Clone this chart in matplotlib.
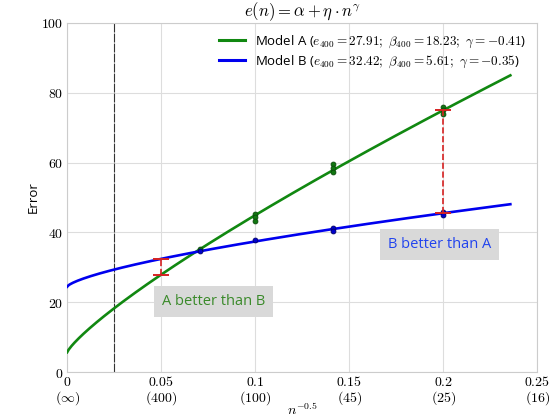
import numpy as np
import matplotlib
matplotlib.use("Agg")
import matplotlib.pyplot as plt

plt.rcParams["mathtext.fontset"] = "cm"
plt.rcParams["font.family"] = ["Open Sans", "DejaVu Sans"]

# fitted model parameters: e(n) = alpha + eta * n^gamma, plotted against x = n^-0.5
alpha_a, eta_a, gamma_a = 5.66, 259.5, -0.41
alpha_b, eta_b, gamma_b = 24.44, 65.0, -0.35
x_end = 0.2357  # n = 18

label_a = r"Model A ($e_{400} = 27.91;\ \beta_{400} = 18.23;\ \gamma = -0.41$)"
label_b = r"Model B ($e_{400} = 32.42;\ \beta_{400} = 5.61;\ \gamma = -0.35$)"

# observed errors (x = n^-0.5)
obs_a_x = [0.0707, 0.1, 0.1, 0.1, 0.1414, 0.1414, 0.1414, 0.2, 0.2, 0.2]
obs_a_y = [35.2, 45.4, 44.3, 43.4, 59.5, 58.4, 57.3, 76.0, 75.0, 74.0]
obs_b_x = [0.0707, 0.1, 0.1414, 0.1414, 0.2, 0.2]
obs_b_y = [34.8, 37.7, 41.3, 40.5, 45.9, 45.1]

# gaps between the two models
gap_x = [0.05, 0.2]
gap_lo = [27.91, 45.5]
gap_hi = [32.42, 75.0]

x_ref = 0.025  # n = 1600

xticks = [0, 0.05, 0.1, 0.15, 0.2, 0.25]
xtick_top = ["0", "0.05", "0.1", "0.15", "0.2", "0.25"]
xtick_bottom = [r"\infty", "400", "100", "45", "25", "16"]
yticks = [0, 20, 40, 60, 80, 100]


def model(x, alpha, eta, gamma):
    n_pow = np.power(x, -2.0 * gamma)
    return alpha + eta * n_pow


fig = plt.figure(figsize=(5.55, 4.18), dpi=100)
ax = fig.add_axes([0.121, 0.110, 0.847, 0.835])

xs = np.linspace(0, x_end, 300)
ax.plot(xs, model(xs, alpha_a, eta_a, gamma_a), color="#118811", lw=1.9, label=label_a, zorder=3)
ax.plot(xs, model(xs, alpha_b, eta_b, gamma_b), color="#0000ee", lw=1.9, label=label_b, zorder=3)

ax.plot(obs_a_x, obs_a_y, "o", ms=3.5, color="#117711", mec="#0a4a0a", mew=0.6, zorder=4)
ax.plot(obs_b_x, obs_b_y, "o", ms=3.5, color="#0000cc", mec="#000066", mew=0.6, zorder=4)

for gx, lo, hi in zip(gap_x, gap_lo, gap_hi):
    ax.plot([gx, gx], [lo, hi], color="#d62222", lw=1.2, ls="--", zorder=5)
    ax.plot([gx, gx], [lo, hi], "_", color="#d62222", ms=11, mew=1.4, zorder=5)

ax.axvline(x_ref, color="#333333", lw=0.8, ls=(0, (8, 1)), zorder=2)

ax.text(0.0777, 20.3, "A better than B", color="#3a8a2a", fontsize=10.5,
        ha="center", va="center",
        bbox=dict(boxstyle="square,pad=0.55", fc="#d9d9d9", ec="none"), zorder=6)
ax.text(0.198, 36.4, "B better than A", color="#2244ee", fontsize=10.5,
        ha="center", va="center",
        bbox=dict(boxstyle="square,pad=0.55", fc="#d9d9d9", ec="none"), zorder=6)

ax.set_xlim(0, 0.25)
ax.set_ylim(0, 100)
ax.set_xticks(xticks)
ax.set_xticklabels([""] * len(xticks))
# two-line tick labels: value of n^-0.5 and matching n below it
for xv, top, bot in zip(xticks, xtick_top, xtick_bottom):
    ax.annotate(rf"${top}$", (xv, 0), xycoords=("data", "axes fraction"),
                xytext=(0, -2), textcoords="offset points",
                ha="center", va="top", fontsize=10)
    ax.annotate(rf"$({bot})$", (xv, 0), xycoords=("data", "axes fraction"),
                xytext=(0, -12.5), textcoords="offset points",
                ha="center", va="top", fontsize=10)
ax.set_yticks(yticks)
ax.set_yticklabels([rf"${v}$" for v in yticks], fontsize=10)
ax.tick_params(length=0, pad=3)
ax.grid(True, color="#dddddd", lw=0.8)
ax.set_axisbelow(True)
for sp in ax.spines.values():
    sp.set_color("#cccccc")

ax.text(0.5, -0.11, r"$n^{-0.5}$", transform=ax.transAxes, ha="center", va="center", fontsize=10)
ax.set_ylabel("Error", fontsize=9.5, labelpad=1)
ax.set_title(r"$e(n) = \alpha + \eta \cdot n^{\gamma}$", fontsize=12, pad=4)

leg = ax.legend(loc="upper right", fontsize=9.5, handlelength=2.0, handletextpad=0.8,
                frameon=False, borderaxespad=0.4, labelspacing=0.3)
for line in leg.get_lines():
    line.set_linewidth(2.2)

fig.savefig("out.png", dpi=100)
